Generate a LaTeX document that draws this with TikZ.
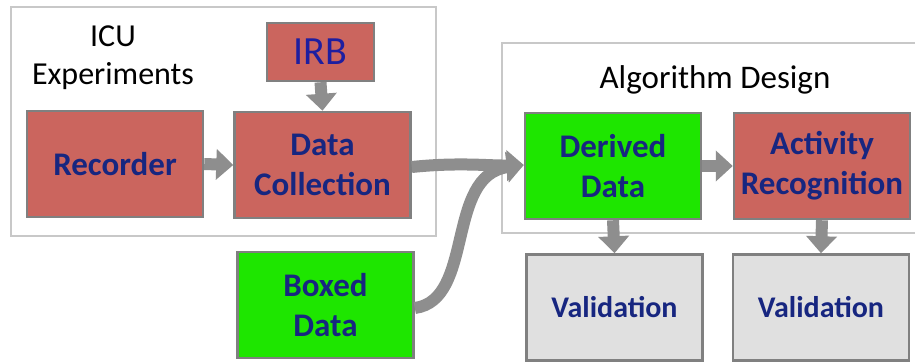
\documentclass[tikz,border=0pt]{standalone}
\usepackage{fontspec}
\setmainfont{Carlito}
\usetikzlibrary{arrows.meta}
\definecolor{boxred}{HTML}{CB655E}
\definecolor{boxgreen}{HTML}{1EE600}
\definecolor{boxgray}{HTML}{E0E0E0}
\definecolor{navytext}{HTML}{172680}
\definecolor{irbblue}{HTML}{1E1EA0}
\definecolor{edgegray}{HTML}{808080}
\definecolor{framegray}{HTML}{C8C8C8}
\definecolor{arrowgray}{HTML}{8E8E8E}
\tikzset{
  frame/.style={draw=framegray, line width=2.5pt},
  stage/.style={draw=edgegray, line width=2.5pt, minimum width=176pt, minimum height=106pt,
    inner sep=0pt, align=center, text=navytext,
    font=\bfseries\fontsize{33}{40}\selectfont},
  redstage/.style={stage, fill=boxred},
  greenstage/.style={stage, fill=boxgreen},
  checkstage/.style={stage, fill=boxgray, font=\bfseries\fontsize{30}{36}\selectfont},
  flow/.style={draw=arrowgray, line width=12pt,
    -{Triangle[width=30pt,length=17pt]}},
  heading/.style={align=center, font=\fontsize{32}{38}\selectfont}
}
\begin{document}
\begin{tikzpicture}[x=1pt,y=-1pt]
\useasboundingbox (0,0) rectangle (915,362);
\fill[white] (0,0) rectangle (915,362);

% group frames
\draw[frame] (11,7) rectangle (436,236);
\draw[frame] (502,43) rectangle (925,233);

% group titles
\node[heading] (icu) at (113,58) {ICU\\Experiments};
\node[heading, font=\fontsize{33}{38}\selectfont] (alg) at (715,80) {Algorithm Design};

% stages
\node[redstage, minimum width=107pt, minimum height=58pt, text=irbblue,
      font=\fontsize{40}{44}\selectfont] (irb) at (320.5,52) {IRB};
\node[redstage] (rec) at (115,164) {Recorder};
\node[redstage] (dc) at (322.5,165) {Data\\Collection};
\node[greenstage] (dd) at (613,166) {Derived\\Data};
\node[redstage] (ar) at (822,166) {Activity\\Recognition};
\node[greenstage] (bd) at (325.5,305) {Boxed\\Data};
\node[checkstage] (v1) at (614.5,307.5) {Validation};
\node[checkstage] (v2) at (821,307.5) {Validation};

% connectors
\draw[flow] (rec.east) -- (dc.west);
\draw[flow] (irb.south) -- (dc.north);
\draw[flow] (dd.east) -- (ar.west);
\draw[flow] (dd.south) -- (v1.north);
\draw[flow] (ar.south) -- (v2.north);
\draw[flow] ([yshift=-2pt]dc.east) .. controls (460,162) and (490,166) .. ([yshift=1pt]dd.west);
\draw[flow] ([yshift=-3pt]bd.east) .. controls (475,300) and (445,175) .. ([yshift=1pt]dd.west);
\end{tikzpicture}
\end{document}
